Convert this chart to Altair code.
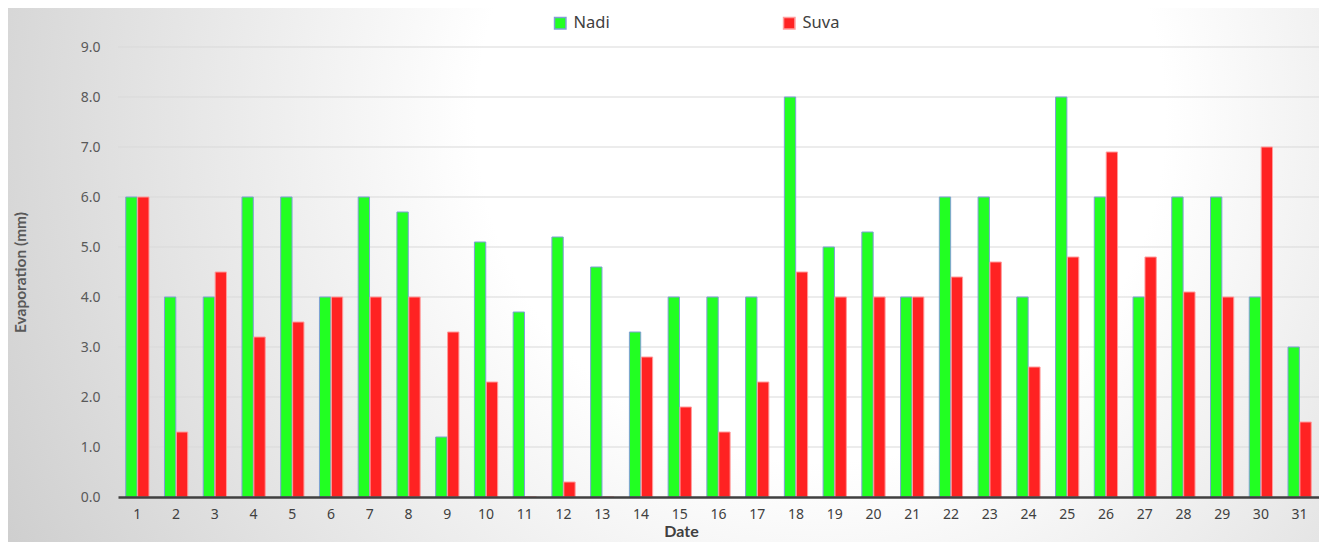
import altair as alt
import pandas as pd

dates = list(range(1, 32))
nadi = [6.0, 4.0, 4.0, 6.0, 6.0, 4.0, 6.0, 5.7, 1.2, 5.1, 3.7, 5.2, 4.6, 3.3, 4.0, 4.0,
        4.0, 8.0, 5.0, 5.3, 4.0, 6.0, 6.0, 4.0, 8.0, 6.0, 4.0, 6.0, 6.0, 4.0, 3.0]
suva = [6.0, 1.3, 4.5, 3.2, 3.5, 4.0, 4.0, 4.0, 3.3, 2.3, 0.0, 0.3, 0.0, 2.8, 1.8, 1.3,
        2.3, 4.5, 4.0, 4.0, 4.0, 4.4, 4.7, 2.6, 4.8, 6.9, 4.8, 4.1, 4.0, 7.0, 1.5]
stations = ["Nadi", "Suva"]
fill_colors = ["#22ff22", "#ff2222"]
stroke_colors = ["#7f9fd6", "#ff9c9c"]
y_ticks = [0, 1, 2, 3, 4, 5, 6, 7, 8, 9]

rows = []
for d, a, b in zip(dates, nadi, suva):
    rows.append({"Date": d, "Station": "Nadi", "Evaporation": a})
    rows.append({"Date": d, "Station": "Suva", "Evaporation": b})
df = pd.DataFrame(rows)

W, H = 1201, 450
PL, PT, PB = 110, 39, 45

grad = alt.RadialGradient(
    gradient="radial",
    stops=[alt.GradientStop(color="#ffffff", offset=0),
           alt.GradientStop(color="#ffffff", offset=0.35),
           alt.GradientStop(color="#c9c9c9", offset=1)],
    x1=0.62, y1=0.38, x2=0.62, y2=0.38, r1=0, r2=0.75,
)

y_scale = alt.Scale(domain=[0, 9], nice=False)
y_axis = alt.Axis(title="Evaporation (mm)", values=y_ticks, format=".1f",
                  labelFont="Noto Sans", labelFontSize=14, labelColor="#595959",
                  labelPadding=18, ticks=False, domain=False, grid=False, zindex=1,
                  titleFont="Lato", titleFontSize=15.5, titleFontWeight="bold",
                  titleColor="#595959", titleX=-98, titleY=H / 2,
                  titleBaseline="middle")

bg = alt.Chart(pd.DataFrame({"k": [0]})).mark_rect(fill=grad, clip=False).encode(
    x=alt.value(-PL), x2=alt.value(W), y=alt.value(-PT), y2=alt.value(H + PB)
)

grid = alt.Chart(pd.DataFrame({"v": y_ticks[1:]})).mark_rule(
    color="#d9d9d9", strokeWidth=1
).encode(y=alt.Y("v:Q", scale=y_scale, axis=y_axis))

bars = alt.Chart(df).mark_bar(strokeWidth=1).encode(
    x=alt.X("Date:O", sort=dates,
            scale=alt.Scale(paddingInner=0.4, paddingOuter=0.2),
            axis=alt.Axis(title="Date", labelAngle=0, labelFont="Noto Sans", labelFontSize=14,
                          labelColor="#404040", labelPadding=10, ticks=False,
                          domainColor="#404040", domainWidth=2.5, zindex=1,
                          titleFont="Lato", titleFontSize=16, titleFontWeight="bold",
                          titleColor="#404040", titlePadding=2, titleX=563)),
    xOffset=alt.XOffset("Station:N", sort=stations, scale=alt.Scale(paddingInner=0.05)),
    y=alt.Y("Evaporation:Q", scale=y_scale, axis=y_axis),
    color=alt.Color("Station:N", sort=stations,
                    scale=alt.Scale(domain=stations, range=fill_colors),
                    legend=alt.Legend(title=None, orient="none", legendX=430, legendY=-36,
                                      direction="horizontal", symbolType="square",
                                      symbolSize=130, symbolOpacity=1,
                                      labelFont="Noto Sans", labelFontSize=16.5,
                                      labelColor="#404040", labelOffset=5,
                                      columnPadding=170, padding=4,
                                      fillColor="rgba(255,255,255,0.55)")),
    stroke=alt.Stroke("Station:N", sort=stations,
                      scale=alt.Scale(domain=stations, range=stroke_colors), legend=None),
)

chart = alt.layer(bg, grid, bars).resolve_scale(y="shared").properties(
    width=W, height=H,
    padding={"left": PL, "top": PT, "right": 0, "bottom": PB},
    autosize=alt.AutoSizeParams(type="none"),
).configure_view(stroke=None).configure(background="#d0d0d0")

chart.save("out.html", embed_options={"renderer": "svg", "actions": False})
